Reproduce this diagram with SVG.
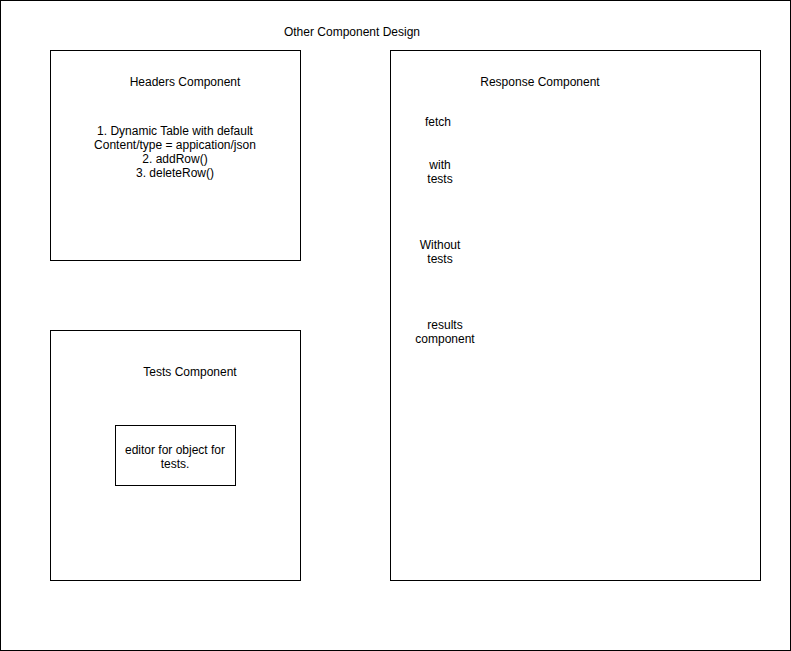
<svg xmlns="http://www.w3.org/2000/svg" width="791" height="651" viewBox="0 0 791 651">
<style>
.box{fill:#fff;stroke:#000;stroke-width:1}
text{font-family:"Liberation Sans",Arial,sans-serif;font-size:12px;fill:#000;text-anchor:middle}
</style>
<rect x="0" y="0" width="791" height="651" fill="#fff"/>
<g id="frame">
<rect class="box" x="0.5" y="0.5" width="790" height="650"/>
<text x="352" y="36">Other Component Design</text>
</g>
<g id="headers">
<rect class="box" x="50.5" y="50.5" width="250" height="210"/>
<text x="185" y="86">Headers Component</text>
<text x="175" y="135">1. Dynamic Table with default</text>
<text x="175" y="149">Content/type = appication/json</text>
<text x="175" y="163">2. addRow()</text>
<text x="175" y="177">3. deleteRow()</text>
</g>
<g id="response">
<rect class="box" x="390.5" y="50.5" width="370" height="530"/>
<text x="540" y="86">Response Component</text>
<text x="438" y="126">fetch</text>
<text x="440" y="169">with</text>
<text x="440" y="183">tests</text>
<text x="440" y="249">Without</text>
<text x="440" y="263">tests</text>
<text x="445" y="329">results</text>
<text x="445" y="343">component</text>
</g>
<g id="tests">
<rect class="box" x="50.5" y="330.5" width="250" height="250"/>
<text x="190" y="376">Tests Component</text>
</g>
<g id="editor">
<rect class="box" x="115.5" y="425.5" width="120" height="60"/>
<text x="175" y="454">editor for object for</text>
<text x="175" y="468">tests.</text>
</g>
<g id="connectors"></g>
</svg>
